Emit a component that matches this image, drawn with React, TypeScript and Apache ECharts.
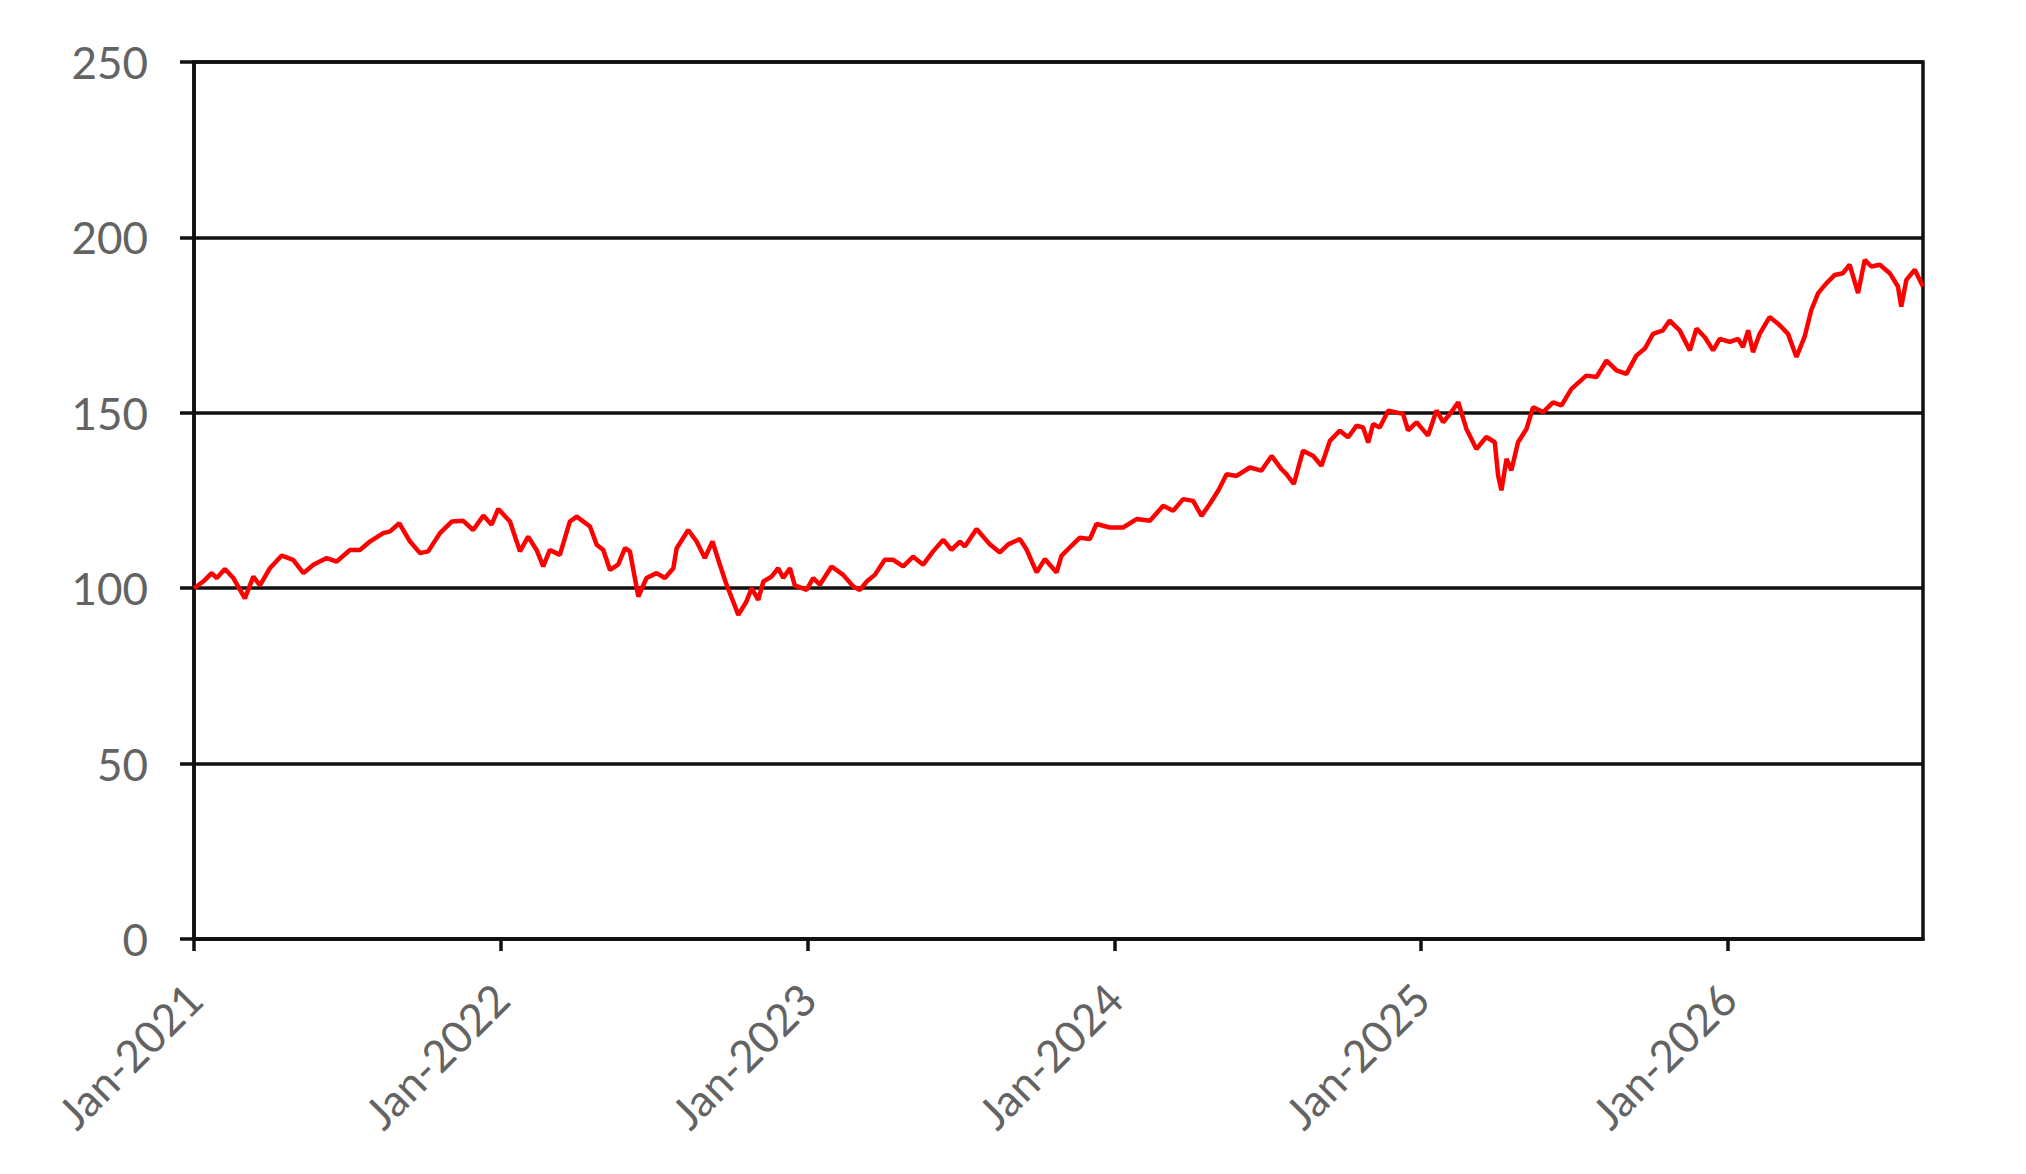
import React, { useEffect, useRef } from "react";
import * as echarts from "echarts";

// Months elapsed since Jan-2021 (x position of each observation)
const months: number[] = [
  0, 0.36, 0.69, 0.89, 1.21, 1.54, 1.99, 2.32, 2.58, 2.97, 3.43, 3.88, 4.28, 4.67, 5.19, 5.58,
  6.1, 6.49, 6.88, 7.4, 7.67, 8.03, 8.45, 8.84, 9.16, 9.62, 10.08, 10.53, 10.92, 11.32, 11.64, 11.9,
  12.36, 12.75, 13.07, 13.4, 13.66, 13.92, 14.31, 14.7, 14.97,
  15.49, 15.75, 16.01, 16.27, 16.59, 16.86, 17.05, 17.38, 17.7, 18.09, 18.42, 18.75, 18.88, 19.33,
  19.66, 19.98, 20.28, 20.57, 20.83, 21.09, 21.29, 21.61, 21.81, 22.07, 22.27, 22.59, 22.85, 23.05,
  23.31, 23.5, 23.96, 24.22, 24.48, 24.94, 25.39, 25.79, 26.05, 26.31, 26.63, 27.02, 27.35, 27.74,
  28.13, 28.52, 28.91, 29.31, 29.63, 29.96, 30.15, 30.61,
  31.13, 31.52, 31.85, 32.3, 32.56, 32.96, 33.28, 33.74, 33.93, 34.32, 34.65, 35.04, 35.3, 35.82,
  36.34, 36.87, 37.39, 37.91, 38.3, 38.69, 39.08, 39.41, 39.73, 40.06, 40.39, 40.78, 41.3, 41.75,
  42.15, 42.54, 42.73, 43.02, 43.38, 43.78, 44.1, 44.43, 44.82, 45.14, 45.47, 45.73, 45.93, 46.12,
  46.38, 46.71,
  47.29, 47.49, 47.82, 48.27, 48.6, 48.86, 49.18, 49.45, 49.77, 50.16, 50.55, 50.88, 51.01, 51.14,
  51.34, 51.53, 51.79, 52.12, 52.38, 52.77, 53.16, 53.49, 53.88, 54.46, 54.86, 55.25, 55.64, 56.03,
  56.42, 56.75, 57.07, 57.46, 57.72, 58.11, 58.51, 58.77, 59.09, 59.42, 59.68, 60.07, 60.4, 60.59,
  60.79, 60.98, 61.24, 61.63, 61.96, 62.35,
  62.68, 63.0, 63.26, 63.53, 63.85, 64.18, 64.5, 64.76, 65.09, 65.35, 65.61, 65.94, 66.33, 66.65,
  66.78, 66.98, 67.31, 67.44, 67.63,
];

// Index level
const values: number[] = [
  100, 101.9, 104.3, 102.9, 105.5, 102.9, 97.1, 103.3, 100.8, 105.7, 109.3, 108.1, 104.3, 106.7, 108.6, 107.6,
  110.9, 110.9, 113.3, 115.7, 116.2, 118.5, 113.3, 110.0, 110.5, 115.7, 119.0, 119.2, 116.6, 120.7, 118.1, 122.6,
  119.0, 110.5, 114.7, 110.9, 106.2, 110.9, 109.5, 119.0, 120.4,
  117.6, 112.4, 110.9, 105.2, 106.7, 111.4, 110.5, 97.6, 102.9, 104.3, 102.9, 105.7, 111.4, 116.6,
  113.3, 108.6, 113.3, 106.7, 101.0, 96.2, 92.4, 96.2, 100.0, 96.7, 101.9, 103.3, 105.7, 102.9,
  105.7, 100.8, 99.5, 102.9, 101.0, 106.2, 103.8, 100.5, 99.5, 101.9, 103.8, 108.1, 108.1, 106.2,
  109.0, 106.7, 110.5, 113.8, 110.9, 113.3, 111.9, 116.9,
  112.5, 110.2, 112.5, 114.0, 111.1, 104.5, 108.3, 104.5, 109.2, 112.1, 114.4, 114.0, 118.3, 117.3,
  117.3, 119.7, 119.2, 123.5, 122.1, 125.4, 124.9, 120.6, 124.0, 127.8, 132.5, 132.0, 134.4, 133.5,
  137.7, 133.9, 132.5, 129.7, 139.2, 137.7, 134.9, 142.0, 144.9, 143.0, 146.3, 145.8, 141.5, 146.8,
  145.8, 150.6,
  149.7, 145.0, 147.3, 143.5, 150.7, 147.3, 150.2, 153.0, 145.4, 139.7, 143.1, 141.6, 132.1, 127.9,
  136.9, 133.6, 141.6, 145.4, 151.6, 150.2, 153.0, 152.1, 156.8, 160.6, 160.2, 164.9, 162.1, 161.1,
  166.3, 168.3, 172.5, 173.5, 176.3, 173.5, 167.8, 174.0, 171.6, 167.8, 171.1, 170.2, 171.1, 168.7,
  173.5, 167.3, 172.5, 177.3, 175.4, 172.5,
  165.9, 171.7, 179.3, 184.1, 186.9, 189.3, 189.8, 192.2, 184.1, 193.6, 191.7, 192.2, 189.8, 186.0,
  180.3, 187.9, 190.8, 188.8, 186.0,
];

// X-axis ticks (months since Jan-2021) and their labels
const xTickMonths: number[] = [0, 12, 24, 36, 48, 60];
const xTickLabels: string[] = ["Jan-2021", "Jan-2022", "Jan-2023", "Jan-2024", "Jan-2025", "Jan-2026"];
const xMax = 67.63;

// Y-axis scale
const yMin = 0;
const yMax = 250;
const yStep = 50;

const LABEL_FONT = "Lato, 'Open Sans', 'DejaVu Sans', sans-serif";
const LABEL_COLOR = "#636363";

export default function App() {
  const ref = useRef<HTMLDivElement | null>(null);

  useEffect(() => {
    if (!ref.current) return;
    const chart = echarts.init(ref.current, undefined, { renderer: "svg" });
    const seriesData = months.map((m, i) => [m, values[i]]);

    chart.setOption({
      animation: false,
      backgroundColor: "#ffffff",
      grid: {
        left: 194,
        right: 103,
        top: 62,
        bottom: 235,
        show: true,
        borderColor: "#111111",
        borderWidth: 3.5,
        backgroundColor: "transparent",
      },
      xAxis: {
        type: "value",
        min: 0,
        max: xMax,
        splitLine: { show: false },
        axisLine: { show: true, onZero: false, lineStyle: { color: "#111111", width: 3.5 } },
        axisTick: {
          show: true,
          customValues: xTickMonths,
          length: 12,
          inside: false,
          lineStyle: { color: "#111111", width: 3.5 },
        },
        axisLabel: {
          customValues: xTickMonths,
          rotate: 45,
          margin: 52,
          fontSize: 44,
          fontFamily: LABEL_FONT,
          color: LABEL_COLOR,
          formatter: (v: number) => {
            const idx = xTickMonths.indexOf(Math.round(v));
            return idx >= 0 ? xTickLabels[idx] : "";
          },
        },
      },
      yAxis: {
        type: "value",
        min: yMin,
        max: yMax,
        interval: yStep,
        axisLine: { show: true, lineStyle: { color: "#111111", width: 3.5 } },
        axisTick: { show: true, length: 14, lineStyle: { color: "#111111", width: 3.5 } },
        splitLine: { show: true, lineStyle: { color: "#111111", width: 3.5 } },
        axisLabel: {
          margin: 46,
          fontSize: 44,
          fontFamily: LABEL_FONT,
          color: LABEL_COLOR,
        },
      },
      series: [
        {
          type: "line",
          data: seriesData,
          showSymbol: false,
          symbol: "none",
          lineStyle: { color: "#ff0000", width: 4.5 },
          z: 5,
        },
      ],
    });

    return () => {
      chart.dispose();
    };
  }, []);

  return (
    <div
      ref={ref}
      style={{ position: "fixed", left: 0, top: 0, width: 2026, height: 1174, background: "#ffffff" }}
    />
  );
}
